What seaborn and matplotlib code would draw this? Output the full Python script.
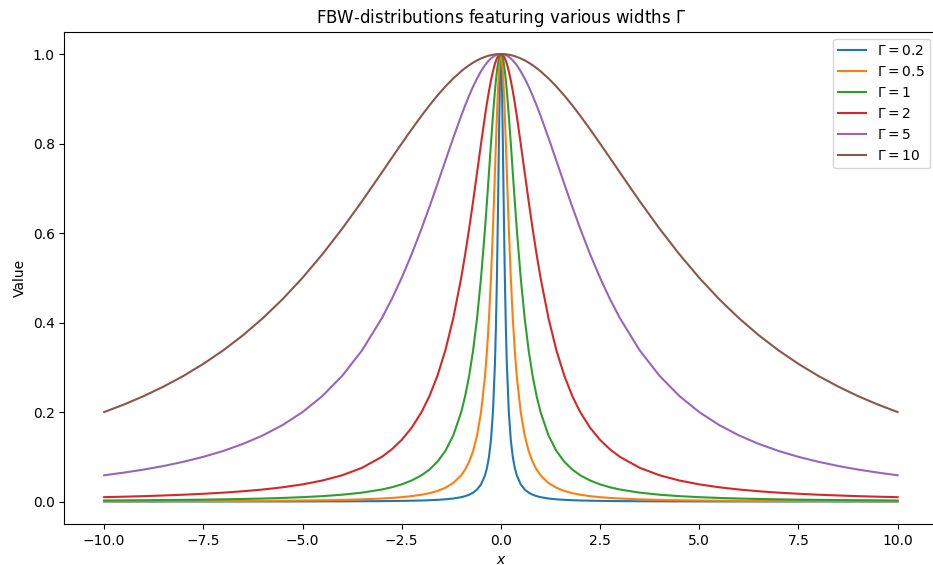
import matplotlib
matplotlib.use("Agg")
import matplotlib.pyplot as plt
import seaborn as sns
import pandas as pd

x = [-10, -9.5, -9, -8.5, -8, -7.5, -7, -6.5, -6, -5.5, -5, -4.5, -4, -3.5, -3, -2.75, -2.5, -2.25, -2, -1.8,
     -1.6, -1.4, -1.2, -1, -0.9, -0.8, -0.7, -0.6, -0.5, -0.4, -0.35, -0.3, -0.25, -0.2, -0.15, -0.125, -0.1, -0.075, -0.05, -0.025,
     0,
     0.025, 0.05, 0.075, 0.1, 0.125, 0.15, 0.2, 0.25, 0.3, 0.35, 0.4, 0.5, 0.6, 0.7, 0.8, 0.9, 1, 1.2, 1.4,
     1.6, 1.8, 2, 2.25, 2.5, 2.75, 3, 3.5, 4, 4.5, 5, 5.5, 6, 6.5, 7, 7.5, 8, 8.5, 9, 9.5, 10]

g02 = [.0001, .0001, .0001, .0001, .0002, .0002, .0002, .0002, .0003, .0003, .0004, .0005, .0006, .0008, .0011, .0013, .0016, .0020, .0025, .0031,
       .0039, .0051, .0069, .0099, .0122, .0154, .02, .0270, .0385, .0588, .0755, .1, .1379, .2, .3077, .3902, .5, .64, .8, .9412,
       1.0,
       .9412, .8, .64, .5, .3902, .3077, .2, .1379, .1, .0755, .0588, .0385, .0270, .02, .0154, .0122, .0099, .0069, .0051,
       .0039, .0031, .0025, .0020, .0016, .0013, .0011, .0008, .0006, .0005, .0004, .0003, .0003, .0002, .0002, .0002, .0002, .0001, .0001, .0001, .0001]
g05 = [.0006, .0007, .0008, .0009, .0010, .0011, .0013, .0015, .0017, .0021, .0025, .0031, .0039, .0051, .0069, .0082, .0099, .0122, .0154, .0189,
       .0238, .0309, .0416, .0588, .0716, .0890, .1131, .1479, .2, .2809, .3378, .4098, .5, .6098, .7353, .8, .8621, .9174, .9615, .9901,
       1.0,
       .9901, .9615, .9174, .8621, .8, .7353, .6098, .5, .4098, .3378, .2809, .2, .1479, .1131, .0890, .0716, .0588, .0416, .0309,
       .0238, .0189, .0154, .0122, .0099, .0082, .0069, .0051, .0039, .0031, .0025, .0021, .0017, .0015, .0013, .0011, .0010, .0009, .0008, .0007, .0006]
g1 = [.0025, .0028, .0031, .0035, .0039, .0044, .0051, .0059, .0069, .0082, .0099, .0122, .0154, .02, .0270, .0320, .0385, .0471, .0588, .0716,
      .0890, .1131, .1479, .2, .2358, .2809, .3378, .4098, .5, .6098, .6711, .7353, .8, .8621, .9174, .9412, .9615, .9780, .9901, .9975,
      1.0,
      .9975, .9901, .9780, .9615, .9412, .9174, .8621, .8, .7353, .6711, .6098, .5, .4098, .3378, .2809, .2358, .2, .1479, .1131,
      .0890, .0716, .0588, .0471, .0385, .0320, .0270, .02, .0154, .0122, .0099, .0082, .0069, .0059, .0051, .0044, .0039, .0035, .0031, .0028, .0025]
g2 = [.0099, .0110, .0122, .0137, .0154, .0175, .02, .0231, .0270, .0320, .0385, .0471, .0588, .0755, .1, .1168, .1379, .1649, .2, .2358,
      .2809, .3378, .4098, .5, .5525, .6098, .6711, .7353, .8, .8621, .8909, .9174, .9412, .9615, .9780, .9846, .9901, .9944, .9975, .9994,
      1.0,
      .9994, .9975, .9944, .9901, .9846, .9780, .9615, .9412, .9174, .8909, .8621, .8, .7353, .6711, .6098, .5525, .5, .4098, .3378,
      .2809, .2358, .2, .1649, .1379, .1168, .1, .0755, .0588, .0471, .0385, .0320, .0270, .0231, .02, .0175, .0154, .0137, .0122, .0110, .0099]
g5 = [.0588, .0648, .0716, .0796, .0890, .1, .1131, .1289, .1479, .1712, .2, .2358, .2809, .3378, .4098, .4525, .5, .5525, .6098, .6586,
      .7094, .7612, .8127, .8621, .8853, .9071, .9273, .9455, .9615, .9750, .9808, .9858, .9901, .9936, .9964, .9975, .9984, .9991, .9996, .9999,
      1.0,
      .9999, .9996, .9991, .9984, .9975, .9964, .9936, .9901, .9858, .9808, .9750, .9615, .9455, .9273, .9071, .8853, .8621, .8127, .7612,
      .7094, .6586, .6098, .5525, .5, .4525, .4098, .3378, .2809, .2358, .2, .1712, .1479, .1289, .1131, .1, .0890, .0796, .0716, .0648, .0588]
g10 = [.2, .2169, .2358, .2571, .2809, .3077, .3378, .3717, .4098, .4525, .5, .5525, .6098, .6711, .7353, .7678, .8, .8316, .8621, .8853,
       .9071, .9273, .9455, .9615, .9686, .9750, .9808, .9858, .9901, .9936, .9951, .9964, .9975, .9984, .9991, .9994, .9996, .9998, .9999, 1.0,
       1.0,
       1.0, .9999, .9998, .9996, .9994, .9991, .9984, .9975, .9964, .9951, .9936, .9901, .9858, .9808, .9750, .9686, .9615, .9455, .9273,
       .9071, .8853, .8621, .8316, .8, .7678, .7353, .6711, .6098, .5525, .5, .4525, .4098, .3717, .3378, .3077, .2809, .2571, .2358, .2169, .2]

labels = [r"$\Gamma = 0.2$", r"$\Gamma = 0.5$", r"$\Gamma = 1$", r"$\Gamma = 2$", r"$\Gamma = 5$", r"$\Gamma = 10$"]
series = [g02, g05, g1, g2, g5, g10]

frames = []
for lab, ys in zip(labels, series):
    frames.append(pd.DataFrame({"x": x, "Value": ys, "series": lab}))
df = pd.concat(frames, ignore_index=True)

fig = plt.figure(figsize=(9.33, 5.65), dpi=100)
ax = fig.add_axes([0.0691, 0.0726, 1.0046 - 0.0691, 0.944 - 0.0726])
sns.lineplot(data=df, x="x", y="Value", hue="series", hue_order=labels,
             palette=sns.color_palette("tab10", 6), ax=ax, estimator=None, sort=False, linewidth=1.5)
ax.set_title(r"FBW-distributions featuring various widths $\Gamma$")
ax.set_xlabel(r"$x$")
ax.set_ylabel("Value")
ax.set_xlim(-11, 11)
ax.set_ylim(-0.05, 1.05)
ax.legend(loc="upper right", title=None)
fig.savefig("out.png", dpi=100)
